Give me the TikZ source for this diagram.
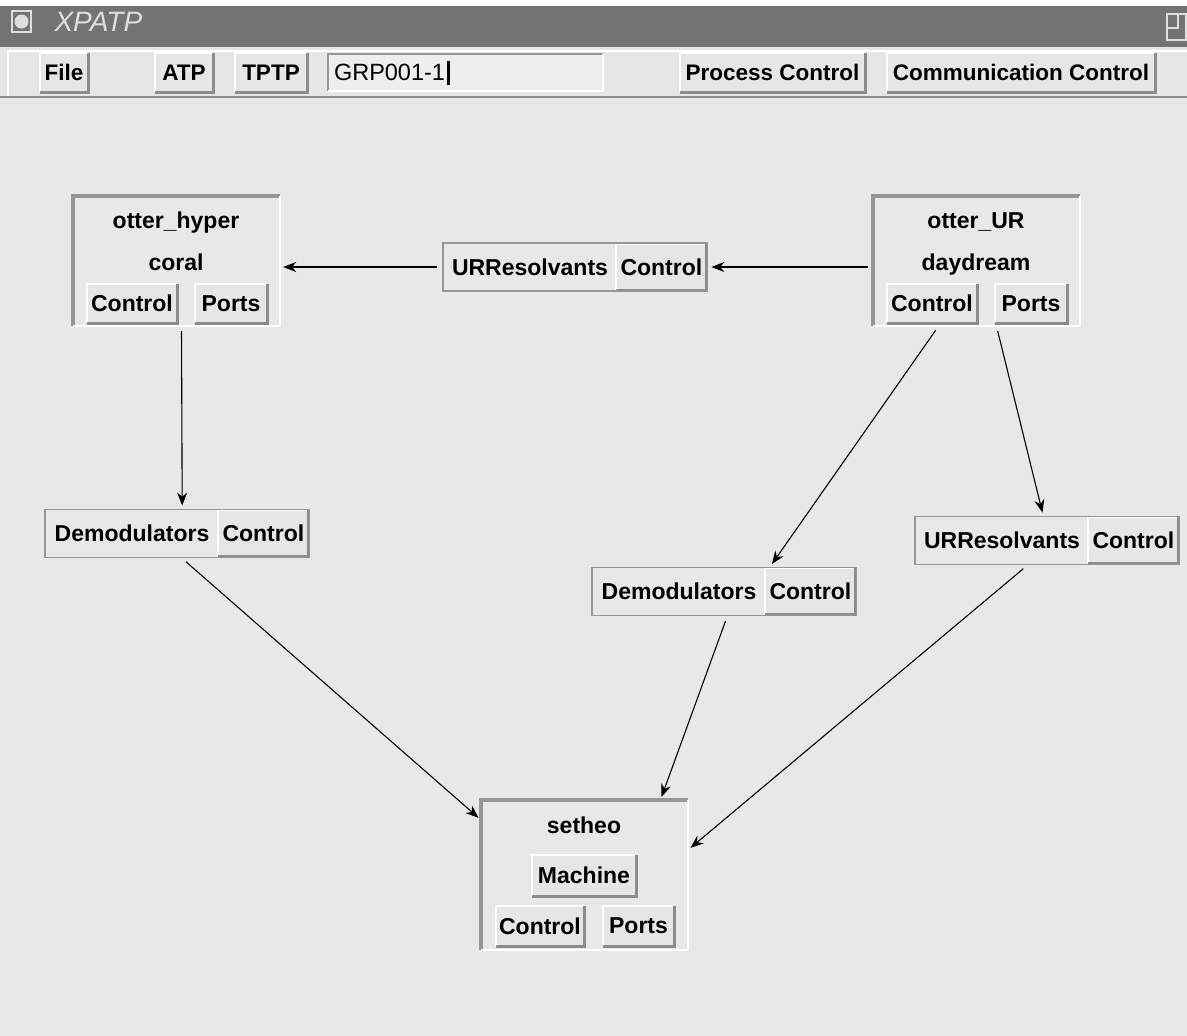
\documentclass[tikz,border=0pt]{standalone}
\usepackage{fontspec}
\setmainfont{Liberation Sans}
\usetikzlibrary{arrows.meta,positioning,fit}
\definecolor{bgGray}{RGB}{232,232,232}
\definecolor{titleGray}{RGB}{115,115,115}
\definecolor{titleText}{RGB}{222,222,222}
\definecolor{faceGray}{RGB}{230,230,230}
\definecolor{shadeGray}{RGB}{140,140,140}
\definecolor{frameGray}{RGB}{150,150,150}
\definecolor{fieldGray}{RGB}{238,238,238}
\tikzset{
  box font/.style={font=\fontsize{23}{26}\selectfont\bfseries},
  menu font/.style={font=\fontsize{22.5}{26}\selectfont\bfseries},
  raised/.style={fill=faceGray,inner sep=0pt,
    append after command={
      (\tikzlastnode.south west) edge[draw=white,line width=2pt,to path={|- (\tikztotarget)}] (\tikzlastnode.north east)
      (\tikzlastnode.south west) edge[draw=shadeGray,line width=3pt,to path={-| (\tikztotarget)}] (\tikzlastnode.north east)}},
  sunken/.style={inner sep=0pt,
    append after command={
      (\tikzlastnode.south west) edge[draw=frameGray,line width=#1,to path={|- (\tikztotarget)}] (\tikzlastnode.north east)
      (\tikzlastnode.south west) edge[draw=white,line width=2.5pt,to path={-| (\tikztotarget)}] (\tikzlastnode.north east)}},
  sunken/.default=4pt,
  menu button/.style={raised,menu font,minimum height=39pt},
  box button/.style={raised,box font,minimum height=39pt},
  box title/.style={box font,anchor=base,inner sep=0pt},
  machine/.style={sunken,minimum width=207pt,minimum height=130pt},
  filter label/.style={box font,fill=bgGray,minimum width=172pt,minimum height=46pt,inner sep=0pt},
  filter button/.style={box button,minimum width=90pt,minimum height=46pt},
  filter frame/.style={draw=frameGray,line width=1.5pt,inner sep=1pt},
  conn/.style={-{Stealth[length=13pt,width=10pt]},line width=1.1pt,shorten >=3pt,shorten <=5pt}
}
\begin{document}
\begin{tikzpicture}[x=1pt,y=-1pt]
  \useasboundingbox (0,0) rectangle (1187,1036);
  \fill[bgGray] (0,0) rectangle (1187,1036);
  % title bar
  \fill[white] (0,0) rectangle (1187,6);
  \fill[titleGray] (0,6) rectangle (1187,47);
  \draw[titleText,line width=1.5pt] (12,11) rectangle (31,32);
  \fill[titleText] (21.5,21.5) circle (7);
  \node[anchor=west,text=titleText,font=\fontsize{28}{32}\selectfont\itshape] (title) at (51,22) {XPATP};
  \draw[titleText,line width=1.2pt] (1167,14) rectangle (1186,40) (1167,14) rectangle (1178,28);
  % menu bar
  \fill[faceGray] (0,47) rectangle (1187,97);
  \draw[white,line width=2pt] (8,96) |- (1187,51);
  \draw[shadeGray,line width=2pt] (0,97) -- (1187,97);
  \node[menu button,minimum width=48pt] (file) at (64,72.5) {File};
  \node[menu button,minimum width=58pt] (atp) at (184,72.5) {ATP};
  \node[menu button,minimum width=72pt] (tptp) at (271,72.5) {TPTP};
  \node[sunken=2pt,fill=fieldGray,minimum width=275pt,minimum height=37pt] (problem) at (465.5,72.5) {};
  \node[anchor=west,inner sep=0pt,font=\fontsize{23.5}{26}\selectfont] (problemText) at ([xshift=6pt]problem.west) {GRP001-1};
  \draw[line width=3pt] ([xshift=3pt,yshift=12pt]problemText.east) -- ([xshift=3pt,yshift=-12pt]problemText.east);
  \node[menu button,minimum width=185pt] (process) at (772.5,72.5) {Process Control};
  \node[menu button,minimum width=268pt] (comm) at (1021,72.5) {Communication Control};
  % machines
  \node[machine] (hyper) at (176.5,261) {};
  \node[box title] (hyperName) at (176,228) {otter\_hyper};
  \node[box title] (hyperHost) at (176,270) {coral};
  \node[box button,minimum width=90pt] (hyperCtl) at (132,303.5) {Control};
  \node[box button,minimum width=72pt] (hyperPorts) at (231,303.5) {Ports};
  \node[machine] (ur) at (976.5,261) {};
  \node[box title] (urName) at (976,228) {otter\_UR};
  \node[box title] (urHost) at (976,270) {daydream};
  \node[box button,minimum width=90pt] (urCtl) at (932,303.5) {Control};
  \node[box button,minimum width=72pt] (urPorts) at (1031,303.5) {Ports};
  \node[machine,minimum height=150pt] (setheo) at (584.5,875) {};
  \node[box title] (setheoName) at (584,833) {setheo};
  \node[box button,minimum width=104pt,minimum height=41pt] (setheoMach) at (584,875.5) {Machine};
  \node[box button,minimum width=88pt,minimum height=40pt] (setheoCtl) at (540,926) {Control};
  \node[box button,minimum width=71pt,minimum height=40pt] (setheoPorts) at (638.5,926) {Ports};
  % filters
  \node[filter label] (resTop) at (530,267) {URResolvants};
  \node[filter button,right=0pt of resTop] (resTopCtl) {Control};
  \node[filter frame,fit=(resTop)(resTopCtl)] (resTopBox) {};
  \node[filter label] (demodLeft) at (132,533.5) {Demodulators};
  \node[filter button,right=0pt of demodLeft] (demodLeftCtl) {Control};
  \node[filter frame,fit=(demodLeft)(demodLeftCtl)] (demodLeftBox) {};
  \node[filter label] (demodMid) at (679,591.5) {Demodulators};
  \node[filter button,right=0pt of demodMid] (demodMidCtl) {Control};
  \node[filter frame,fit=(demodMid)(demodMidCtl)] (demodMidBox) {};
  \node[filter label] (resRight) at (1002,540.5) {URResolvants};
  \node[filter button,right=0pt of resRight] (resRightCtl) {Control};
  \node[filter frame,fit=(resRight)(resRightCtl)] (resRightBox) {};
  % connections
  \draw[conn] (ur.west |- resTopBox.east) -- (resTopBox.east);
  \draw[conn] (resTopBox.west) -- (hyper.east |- resTopBox.west);
  \draw[conn] ([xshift=5pt]hyper.south) -- ([xshift=5pt]demodLeftBox.north);
  \draw[conn] ([xshift=-38pt]ur.south) -- ([xshift=46pt]demodMidBox.north);
  \draw[conn] ([xshift=20pt]ur.south) -- ([xshift=-4pt]resRightBox.north);
  \draw[conn] ([xshift=5pt]demodLeftBox.south) -- ([yshift=-20pt]setheo.north west);
  \draw[conn] ([xshift=3pt]demodMidBox.south) -- ([xshift=76pt]setheo.north);
  \draw[conn] ([xshift=-20pt]resRightBox.south) -- ([yshift=-50pt]setheo.north east);
\end{tikzpicture}
\end{document}
